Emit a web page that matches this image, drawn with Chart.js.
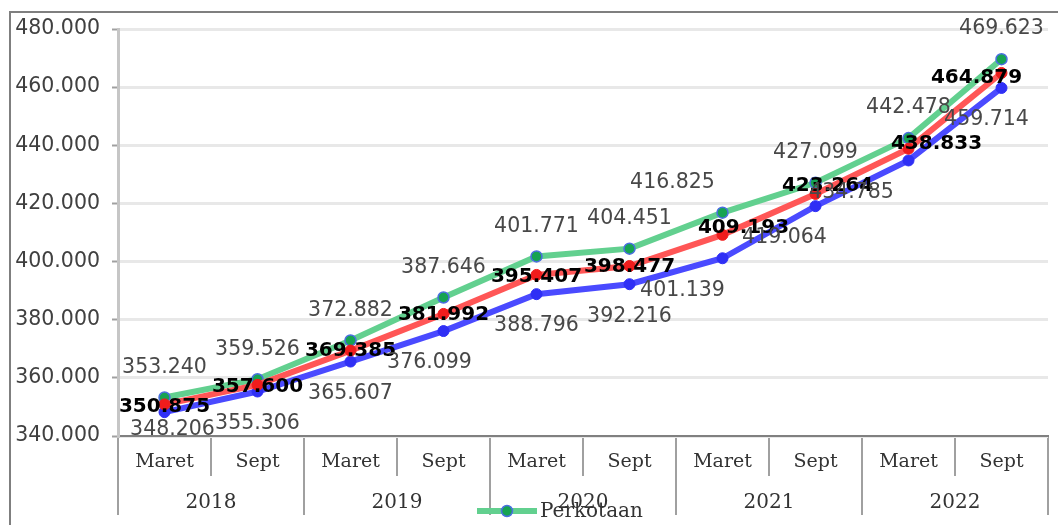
<!DOCTYPE html>
<html>
<head>
<meta charset="utf-8">
<script src="https://cdn.jsdelivr.net/npm/chart.js@4.4.1/dist/chart.umd.min.js"></script>
<style>
    html, body { margin: 0; padding: 0; background: #fff; }
    #wrap { position: relative; width: 1058px; height: 525px; overflow: hidden; }
    #frame { position: absolute; left: 9px; top: 11px; width: 1200px; height: 700px; border-top: 2px solid #7f7f7f; border-left: 2px solid #7f7f7f; }
    #box { position: absolute; left: 0; top: 0; width: 1058px; height: 525px; }
</style>
</head>
<body>
<div id="wrap">
    <div id="frame"></div>
    <div id="box"><canvas id="chart"></canvas></div>
</div>
<script>
// ===== Data =====
const months = ['Maret', 'Sept', 'Maret', 'Sept', 'Maret', 'Sept', 'Maret', 'Sept', 'Maret', 'Sept'];
const years = ['2018', '2019', '2020', '2021', '2022'];
const perkotaan = [353240, 359526, 372882, 387646, 401771, 404451, 416825, 427099, 442478, 469623];
const gabungan = [350875, 357600, 369385, 381992, 395407, 398477, 409193, 423264, 438833, 464879];
const perdesaan = [348206, 355306, 365607, 376099, 388796, 392216, 401139, 419064, 434785, 459714];
const yMin = 340000, yMax = 480000, yStep = 20000;

const fmt = v => String(v).replace(/\B(?=(\d{3})+(?!\d))/g, '.');
const SANS = '"DejaVu Sans", Verdana, sans-serif';
const SERIF = '"DejaVu Serif", serif';

// value labels (dx/dy = nudges of the labels as placed in the original)
const pointLabels = {
    id: 'pointLabels',
    afterDatasetsDraw(chart, args, opts) {
        const ctx = chart.ctx;
        const area = chart.chartArea;
        chart.data.datasets.forEach((ds, di) => {
            const st = opts.styles[di];
            const meta = chart.getDatasetMeta(di);
            ctx.save();
            ctx.font = st.font;
            ctx.fillStyle = st.color;
            ctx.textAlign = 'center';
            ctx.textBaseline = 'middle';
            meta.data.forEach((pt, i) => {
                const x = pt.x + (st.dx[i] || 0);
                let y = pt.y + st.dy + (st.ddy ? st.ddy[i] : 0);
                y = Math.min(y, area.bottom - 6);
                ctx.fillText(fmt(ds.data[i]), x, y);
            });
            ctx.restore();
        });
    }
};

// only the first legend entry is visible in the original (rest is cropped)
const partLegend = {
    id: 'partLegend',
    afterDraw(chart, args, opts) {
        const ctx = chart.ctx;
        const ds = chart.data.datasets[0];
        ctx.save();
        ctx.strokeStyle = ds.borderColor;
        ctx.lineWidth = ds.borderWidth;
        ctx.beginPath();
        ctx.moveTo(opts.x, opts.y);
        ctx.lineTo(opts.x + 60, opts.y);
        ctx.stroke();
        ctx.beginPath();
        ctx.arc(opts.x + 30, opts.y, ds.pointRadius, 0, Math.PI * 2);
        ctx.fillStyle = ds.pointBackgroundColor;
        ctx.fill();
        ctx.lineWidth = ds.pointBorderWidth;
        ctx.strokeStyle = ds.pointBorderColor;
        ctx.stroke();
        ctx.font = '20px ' + SERIF;
        ctx.fillStyle = '#333';
        ctx.textBaseline = 'middle';
        ctx.fillText(ds.label, opts.x + 63, opts.y + 1);
        ctx.restore();
    }
};

new Chart(document.getElementById('chart'), {
    type: 'line',
    data: {
        labels: months,
        datasets: [
            { label: 'Perkotaan', data: perkotaan, borderColor: '#62d08f', borderWidth: 6,
              pointRadius: 5.5, pointBackgroundColor: '#16a352', pointBorderColor: '#4a6fe0', pointBorderWidth: 1.5, order: 2 },
            { label: 'Perkotaan+Perdesaan', data: gabungan, borderColor: '#ff5656', borderWidth: 6,
              pointRadius: 5.5, pointBackgroundColor: '#f01c1c', pointBorderColor: '#f01c1c', pointBorderWidth: 1, order: 0 },
            { label: 'Perdesaan', data: perdesaan, borderColor: '#4a4aff', borderWidth: 6,
              pointRadius: 5.5, pointBackgroundColor: '#2f2ff5', pointBorderColor: '#2f2ff5', pointBorderWidth: 1, order: 1 }
        ]
    },
    options: {
        responsive: true, maintainAspectRatio: false, animation: false,
        layout: { padding: { left: 0, right: 10, top: 29, bottom: 0 } },
        plugins: {
            legend: { display: false },
            tooltip: { enabled: false },
            pointLabels: {
                styles: [
                    { font: '20.5px ' + SANS, color: '#484848', dy: -30,
                      dx: [0, 0, 0, 0, 0, 0, -50, 0, 0, 0] },
                    { font: 'bold 20px ' + SANS, color: '#000', dy: 0,
                      dx: [0, 0, 0, 0, 0, 0, 21, 12, 28, -25], ddy: [2, 2, 0, 1, 2, 1, -7, -8, -5, 5] },
                    { font: '20.5px ' + SANS, color: '#484848', dy: 32,
                      dx: [8, 0, 0, -14, 0, 0, -40, -31, -57, -15] }
                ]
            },
            partLegend: { x: 477, y: 511 }
        },
        scales: {
            x: {
                offset: true, weight: 0,
                afterFit: s => { s.height = 40; },
                grid: { offset: true, drawOnChartArea: false, tickLength: 40, color: '#a0a0a0', lineWidth: 2 },
                border: { color: '#808080', width: 2 },
                ticks: { autoSkip: false, maxRotation: 0, padding: -25, color: '#333', font: { family: SERIF, size: 19 } }
            },
            x2: {
                type: 'category', labels: years, position: 'bottom', offset: true, weight: 1,
                afterFit: s => { s.height = 49; },
                grid: { offset: true, drawOnChartArea: false, tickLength: 39, color: '#a0a0a0', lineWidth: 2 },
                border: { display: false },
                ticks: { autoSkip: false, maxRotation: 0, padding: -24, color: '#333', font: { family: SERIF, size: 20 } }
            },
            y: {
                min: yMin, max: yMax,
                afterFit: s => { s.width = 118; },
                grid: { color: '#e8e8e8', lineWidth: 3, tickLength: 6, tickColor: '#a0a0a0', tickWidth: 2 },
                border: { color: '#c6c6c6', width: 3 },
                ticks: { stepSize: yStep, padding: 12, color: '#404040', font: { family: SANS, size: 20.5 }, callback: v => fmt(v) }
            }
        }
    },
    plugins: [pointLabels, partLegend]
});
</script>
</body>
</html>
